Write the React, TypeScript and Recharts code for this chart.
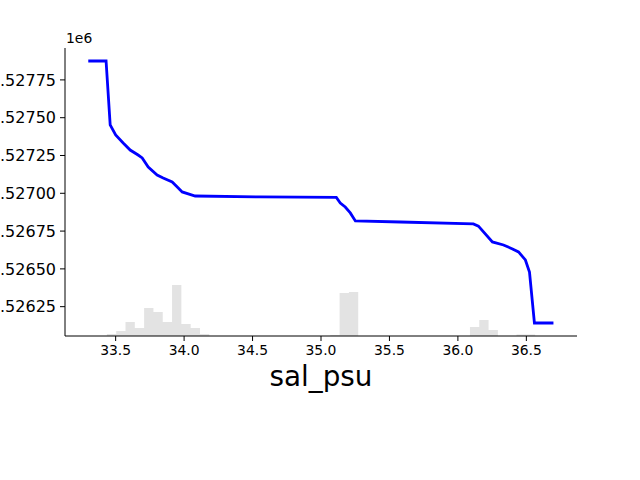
import React from "react";
import {
  ComposedChart,
  Line,
  Area,
  XAxis,
  YAxis,
} from "recharts";

// partial dependence of target on salinity (values in raw units, axis shows x1e6)
const salinity = [
  33.3, 33.43, 33.46, 33.5, 33.555, 33.606, 33.664, 33.694, 33.738, 33.803,
  33.847, 33.913, 33.95, 33.986, 34.081, 34.556, 35.112, 35.141, 35.177,
  35.214, 35.251, 35.58, 36.113, 36.15, 36.252, 36.333, 36.399, 36.443,
  36.493, 36.523, 36.559, 36.698,
];
const partialDep = [
  1527875, 1527875, 1527452, 1527386, 1527333, 1527286, 1527253, 1527234,
  1527174, 1527121, 1527101, 1527075, 1527042, 1527009, 1526982, 1526976,
  1526973, 1526936, 1526909, 1526870, 1526817, 1526810, 1526797, 1526783,
  1526678, 1526658, 1526632, 1526612, 1526559, 1526479, 1526142, 1526142,
];

// histogram of the feature (non-empty bins only)
const binWidth = 0.068;
const binStart = [
  33.436, 33.504, 33.572, 33.64, 33.708, 33.776, 33.844, 33.912, 33.98,
  34.048, 34.116, 35.068, 35.136, 35.204, 36.088, 36.156, 36.224, 36.428,
  36.496,
];
const binCount = [2, 5, 14, 8, 28, 24, 14, 51, 12, 8, 2, 1, 43, 44, 9, 16, 6, 1.5, 1.5];

const xTicks = [33.5, 34.0, 34.5, 35.0, 35.5, 36.0, 36.5];
const yTicks = [1526250, 1526500, 1526750, 1527000, 1527250, 1527500, 1527750];

const lineData = salinity.map((s, i) => ({ s, v: partialDep[i] }));
const histData = binStart.flatMap((s, i) => [
  { s, c: 0 },
  { s, c: binCount[i] },
  { s: s + binWidth, c: binCount[i] },
  { s: s + binWidth, c: 0 },
]);

const font = "'DejaVu Sans', sans-serif";
const xTickStyle = { fill: "#000", fontSize: 13.9, fontFamily: font };
const yTickStyle = { fill: "#000", fontSize: 16, fontFamily: font };

export default function App() {
  return (
    <div style={{ position: "absolute", left: 0, top: 0, width: 640, height: 480, overflow: "hidden", background: "#fff" }}>
      <div style={{ position: "absolute", left: -20, top: 0 }}>
        <ComposedChart
          width={660}
          height={480}
          margin={{ top: 48, right: 63, bottom: 114, left: 0 }}
        >
          <XAxis
            type="number"
            dataKey="s"
            domain={[33.13, 36.87]}
            allowDataOverflow
            ticks={xTicks}
            interval={0}
            tickFormatter={(v: number) => v.toFixed(1)}
            tick={xTickStyle}
            tickSize={5}
            tickMargin={4}
            height={30}
            stroke="#000"
          />
          <YAxis
            yAxisId="pd"
            type="number"
            domain={[1526056, 1527961]}
            allowDataOverflow
            ticks={yTicks}
            interval={0}
            tickFormatter={(v: number) => (v / 1e6).toFixed(5)}
            tick={yTickStyle}
            tickSize={5}
            tickMargin={4}
            width={85}
            stroke="#000"
          />
          <YAxis yAxisId="hist" orientation="right" hide domain={[0, 288]} width={0} />
          <Area
            yAxisId="hist"
            data={histData}
            dataKey="c"
            type="linear"
            fill="#e3e3e3"
            fillOpacity={1}
            stroke="none"
            isAnimationActive={false}
          />
          <Line
            yAxisId="pd"
            data={lineData}
            dataKey="v"
            type="linear"
            stroke="#0000ff"
            strokeWidth={2.8}
            dot={false}
            isAnimationActive={false}
          />
        </ComposedChart>
      </div>
      <div style={{ position: "absolute", left: 66, top: 30, fontFamily: font, fontSize: 13.9, lineHeight: "16px", color: "#000" }}>
        1e6
      </div>
      <div style={{ position: "absolute", left: 0, width: 642, top: 360, textAlign: "center", fontFamily: font, fontSize: 27.8, lineHeight: "34px", color: "#000" }}>
        sal_psu
      </div>
    </div>
  );
}
